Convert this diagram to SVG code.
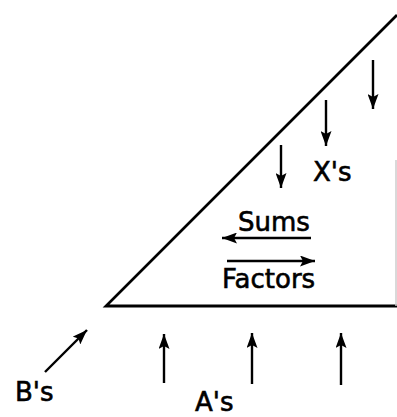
<svg xmlns="http://www.w3.org/2000/svg" width="397" height="417" viewBox="0 0 397 417">
<defs>
<marker id="ah" markerUnits="userSpaceOnUse" markerWidth="15" markerHeight="11" refX="15" refY="5.5" orient="auto">
<path d="M0,0 L15,5.5 L0,11 L3,5.5 z" fill="#000"/>
</marker>
</defs>
<style>
.ln{stroke:#000;stroke-width:2.8;fill:none}
.ar{stroke:#000;stroke-width:2.4;fill:none;marker-end:url(#ah)}
.t{font-family:"DejaVu Sans","Liberation Sans",sans-serif;font-size:26px;fill:#000;stroke:#000;stroke-width:0.6}
</style>
<rect width="397" height="417" fill="#fff"/>
<g id="triangle">
<path class="ln" d="M397,15 L106,306 L397,306"/>
<line x1="396" y1="160" x2="396" y2="306" stroke="#ccc" stroke-width="1.5"/>
</g>
<g id="connectors">
<line class="ar" x1="373" y1="60" x2="373" y2="109"/>
<line class="ar" x1="326" y1="100" x2="326" y2="146"/>
<line class="ar" x1="281" y1="145" x2="281" y2="188"/>
<line class="ar" x1="311" y1="238" x2="222" y2="238"/>
<line class="ar" x1="227" y1="261" x2="315" y2="261"/>
<line class="ar" x1="45" y1="372" x2="87" y2="330"/>
<line class="ar" x1="164" y1="383" x2="164" y2="334"/>
<line class="ar" x1="252" y1="384" x2="252" y2="333"/>
<line class="ar" x1="341" y1="385" x2="341" y2="333"/>
</g>
<g id="labels">
<text class="t" x="313" y="181">X's</text>
<text class="t" x="238" y="231">Sums</text>
<text class="t" x="222" y="288">Factors</text>
<text class="t" x="15" y="401">B's</text>
<text class="t" x="195" y="411">A's</text>
</g>
</svg>
